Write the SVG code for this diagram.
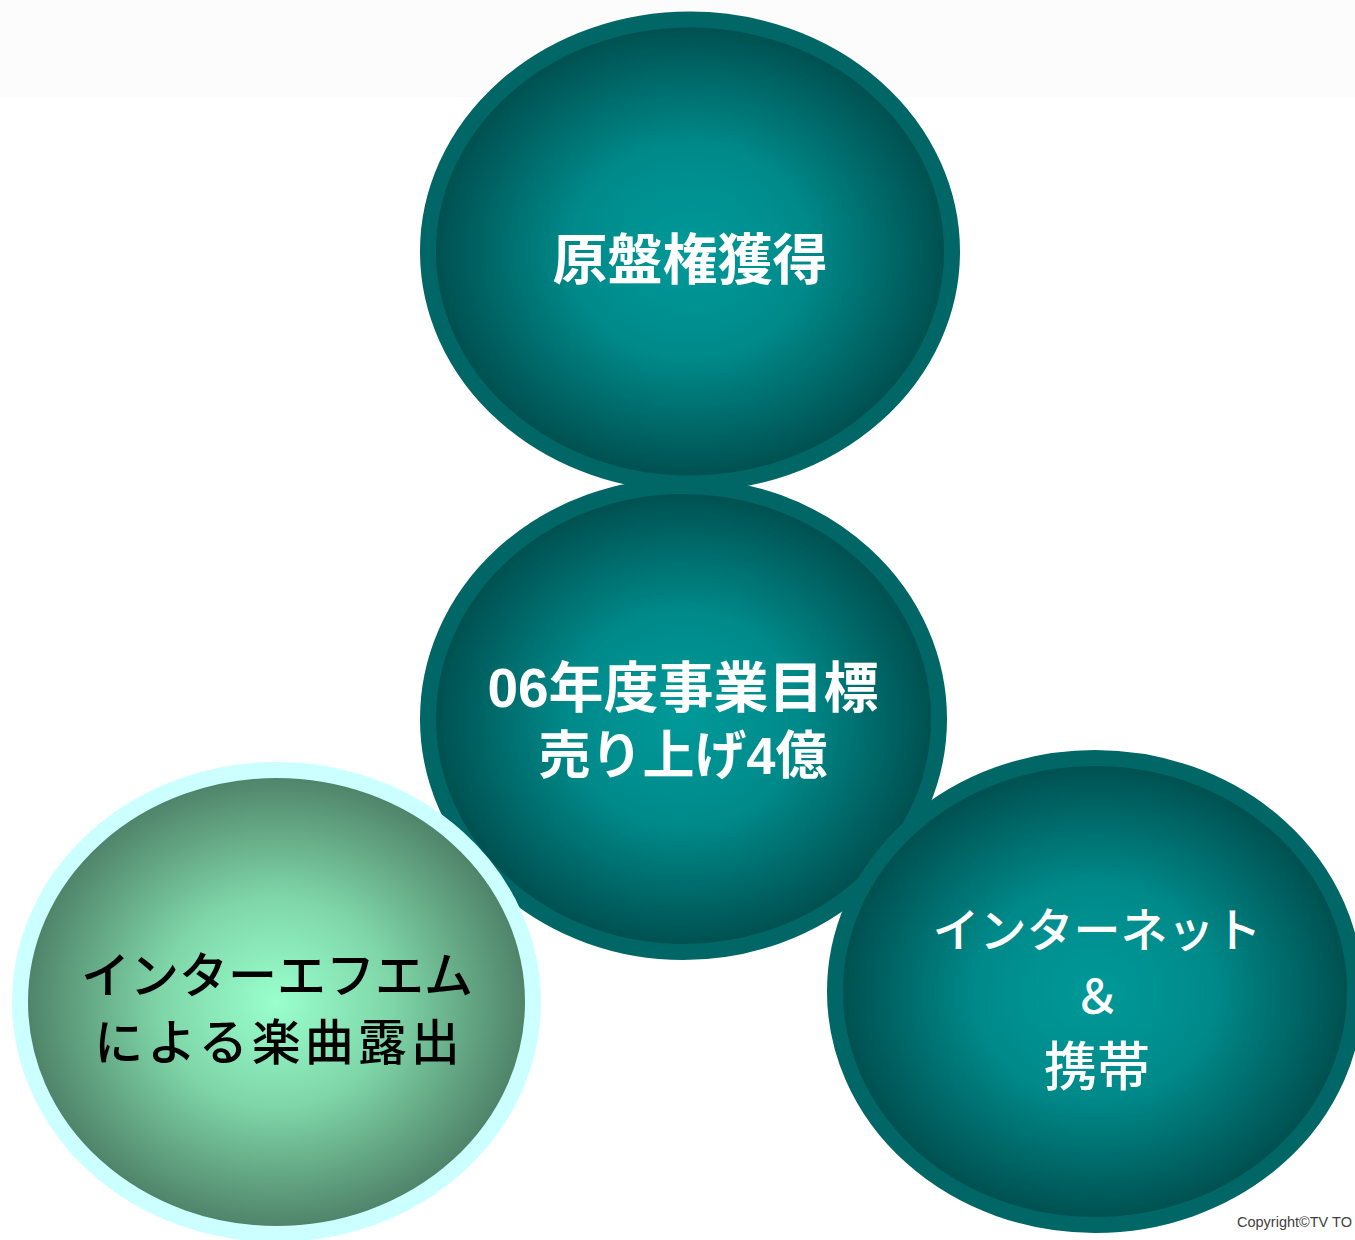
<svg xmlns="http://www.w3.org/2000/svg" width="1355" height="1240" viewBox="0 0 1355 1240">
<defs>
<radialGradient id="gTeal" cx="50%" cy="50%" r="50%">
<stop offset="0" stop-color="#009999"/>
<stop offset="0.45" stop-color="#008a8a"/>
<stop offset="1" stop-color="#004d4d"/>
</radialGradient>
<radialGradient id="gGreen" cx="50%" cy="50%" r="50%">
<stop offset="0" stop-color="#99ffcc"/>
<stop offset="0.45" stop-color="#7fd6a8"/>
<stop offset="1" stop-color="#4d7f66"/>
</radialGradient>
<style>
.teal{fill:url(#gTeal);stroke:#006666;stroke-width:16}
.green{fill:url(#gGreen);stroke:#ccffff;stroke-width:16}
.wb{font-family:"Liberation Sans","Noto Sans CJK JP",sans-serif;font-weight:bold;fill:#ffffff;text-anchor:middle;font-size:55px}
.wr{font-family:"Noto Sans CJK JP",sans-serif;font-weight:500;fill:#ffffff;text-anchor:middle;font-size:47px}
.kr{font-family:"Noto Sans CJK JP",sans-serif;font-weight:500;fill:#000000;text-anchor:middle;font-size:49px}
</style>
</defs>
<rect x="0" y="0" width="1355" height="1240" fill="#ffffff"/>
<rect x="0" y="0" width="1355" height="97" fill="#fcfcfc"/>
<g id="connectors"></g>
<g id="node-top">
<ellipse class="teal" cx="690" cy="251.5" rx="262" ry="232"/>
<text class="wb" x="690" y="279">原盤権獲得</text>
</g>
<g id="node-center">
<ellipse class="teal" cx="683.5" cy="719" rx="255.5" ry="233"/>
<text class="wb" x="683" y="707">06年度事業目標</text>
<text class="wb" x="683" y="774" style="font-size:52px">売り上げ4億</text>
</g>
<g id="node-right">
<ellipse class="teal" cx="1095" cy="991.5" rx="260" ry="233.5"/>
<text class="wr" x="1097" y="947">インターネット</text>
<text class="wr" x="1097" y="1013">＆</text>
<text class="wr" x="1097" y="1086" style="font-size:53px">携帯</text>
</g>
<g id="node-left">
<ellipse class="green" cx="276.5" cy="1002" rx="256.5" ry="232"/>
<text class="kr" x="277" y="993">インターエフエム</text>
<text class="kr" x="279" y="1060" letter-spacing="4">による楽曲露出</text>
</g>
<text x="1237" y="1227" font-family="Liberation Sans, Arial, sans-serif" font-size="14.5" fill="#404040">Copyright©TV TO</text>
</svg>
